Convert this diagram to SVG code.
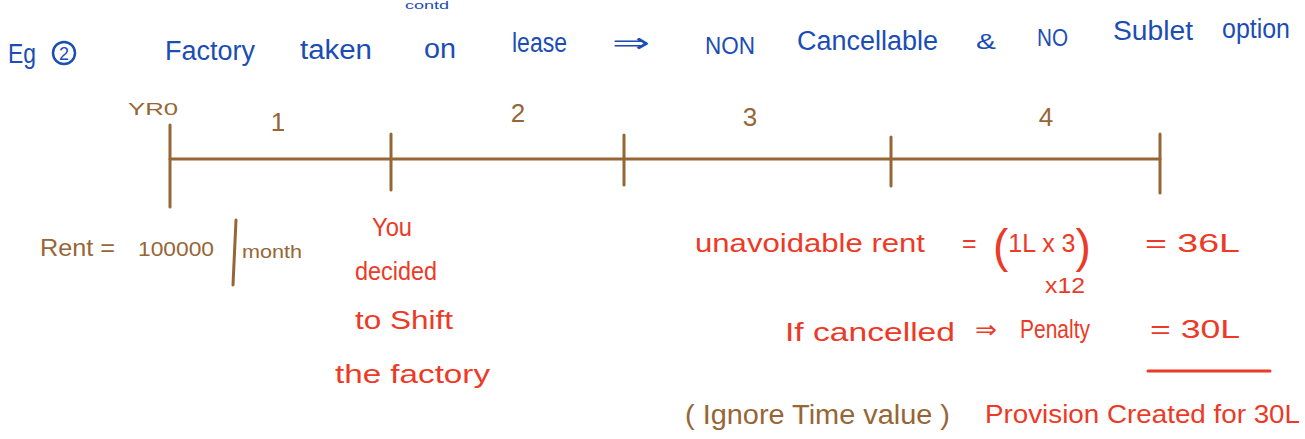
<svg xmlns="http://www.w3.org/2000/svg" width="1305" height="439" viewBox="0 0 1305 439">
<style>
text{font-family:"Liberation Sans","DejaVu Sans",sans-serif}
.b{fill:#1b4db5;font-size:27px}
.br{fill:#966636;font-size:23px}
.r{fill:#ec3a27;font-size:25px}
.tl{stroke:#966636;stroke-width:3;fill:none;stroke-linecap:round}
.rl{stroke:#ec3a27;stroke-width:3;fill:none;stroke-linecap:round}
</style>
<rect width="1305" height="439" fill="#ffffff"/>
<g id="heading">
<text class="b" x="405" y="9" style="font-size:11px" textLength="44" lengthAdjust="spacingAndGlyphs">contd</text>
<text class="b" x="8" y="63" style="font-size:28px" textLength="28" lengthAdjust="spacingAndGlyphs">Eg</text>
<circle cx="64" cy="53" r="11" fill="none" stroke="#1b4db5" stroke-width="2.5"/>
<text class="b" x="64" y="60" style="font-size:18px" text-anchor="middle">2</text>
<text class="b" x="165" y="60" textLength="90" lengthAdjust="spacingAndGlyphs">Factory</text>
<text class="b" x="300" y="59" textLength="72" lengthAdjust="spacingAndGlyphs">taken</text>
<text class="b" x="424" y="58" textLength="32" lengthAdjust="spacingAndGlyphs">on</text>
<text class="b" x="512" y="52" textLength="55" lengthAdjust="spacingAndGlyphs">lease</text>
<text class="b" x="612" y="52" textLength="38" lengthAdjust="spacingAndGlyphs">⇒</text>
<text class="b" x="705" y="54" style="font-size:24px" textLength="50" lengthAdjust="spacingAndGlyphs">NON</text>
<text class="b" x="797" y="50" textLength="141" lengthAdjust="spacingAndGlyphs">Cancellable</text>
<text class="b" x="976" y="49" style="font-size:22px" textLength="20" lengthAdjust="spacingAndGlyphs">&amp;</text>
<text class="b" x="1037" y="46" style="font-size:24px" textLength="31" lengthAdjust="spacingAndGlyphs">NO</text>
<text class="b" x="1113" y="40" textLength="80" lengthAdjust="spacingAndGlyphs">Sublet</text>
<text class="b" x="1222" y="38" textLength="68" lengthAdjust="spacingAndGlyphs">option</text>
</g>
<g id="timeline">
<line class="tl" x1="170" y1="159" x2="1160" y2="159"/>
<line class="tl" x1="170" y1="125" x2="170" y2="207" stroke-width="2.5"/>
<line class="tl" x1="391" y1="134" x2="391" y2="190" stroke-width="2.5"/>
<line class="tl" x1="624" y1="135" x2="624" y2="185" stroke-width="2.5"/>
<line class="tl" x1="891" y1="137" x2="891" y2="186" stroke-width="2.5"/>
<line class="tl" x1="1160" y1="134" x2="1160" y2="193" stroke-width="2.5"/>
<text class="br" x="128" y="115" style="font-size:16px" textLength="50" lengthAdjust="spacingAndGlyphs">YR0</text>
<text class="br" x="278" y="131" style="font-size:26px" text-anchor="middle">1</text>
<text class="br" x="518" y="122" style="font-size:26px" text-anchor="middle">2</text>
<text class="br" x="750" y="126" style="font-size:26px" text-anchor="middle">3</text>
<text class="br" x="1046" y="126" style="font-size:26px" text-anchor="middle">4</text>
</g>
<g id="rent">
<text class="br" x="40" y="256" textLength="75" lengthAdjust="spacingAndGlyphs">Rent =</text>
<text class="br" x="138" y="256" style="font-size:21px" textLength="76" lengthAdjust="spacingAndGlyphs">100000</text>
<line class="tl" x1="236" y1="220" x2="233" y2="285"/>
<text class="br" x="242" y="258" style="font-size:19px" textLength="60" lengthAdjust="spacingAndGlyphs">month</text>
</g>
<g id="decision">
<text class="r" x="372" y="236" textLength="40" lengthAdjust="spacingAndGlyphs">You</text>
<text class="r" x="355" y="280" textLength="82" lengthAdjust="spacingAndGlyphs">decided</text>
<text class="r" x="355" y="329" textLength="98" lengthAdjust="spacingAndGlyphs">to Shift</text>
<text class="r" x="335" y="383" textLength="155" lengthAdjust="spacingAndGlyphs">the factory</text>
</g>
<g id="calc">
<text class="r" x="695" y="252" textLength="230" lengthAdjust="spacingAndGlyphs">unavoidable   rent</text>
<text class="r" x="962" y="252">=</text>
<text class="r" x="993" y="262"><tspan style="font-size:46px">(</tspan><tspan dy="-10">1L x 3</tspan><tspan style="font-size:46px" dy="10">)</tspan></text>
<text class="r" x="1145" y="252" textLength="95" lengthAdjust="spacingAndGlyphs">=  36L</text>
<text class="r" x="1045" y="293" style="font-size:22px" textLength="40" lengthAdjust="spacingAndGlyphs">x12</text>
<text class="r" x="785" y="341" textLength="170" lengthAdjust="spacingAndGlyphs">If  cancelled</text>
<text class="r" x="975" y="338" textLength="22" lengthAdjust="spacingAndGlyphs">⇒</text>
<text class="r" x="1020" y="338" textLength="70" lengthAdjust="spacingAndGlyphs">Penalty</text>
<text class="r" x="1150" y="338" textLength="90" lengthAdjust="spacingAndGlyphs">=  30L</text>
<line class="rl" x1="1148" y1="371" x2="1270" y2="371"/>
<text class="br" x="685" y="424" style="font-size:27px" textLength="265" lengthAdjust="spacingAndGlyphs">( Ignore  Time  value )</text>
<text class="r" x="985" y="423" textLength="315" lengthAdjust="spacingAndGlyphs">Provision  Created  for 30L</text>
</g>
</svg>
